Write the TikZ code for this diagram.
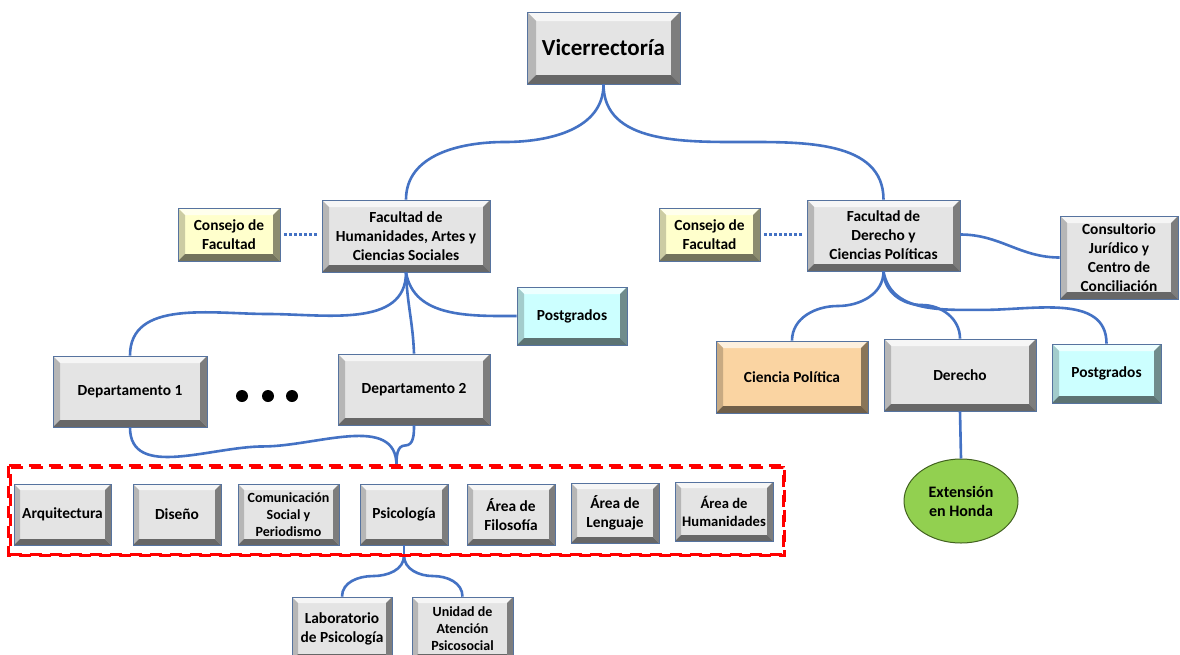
\documentclass[tikz,border=0pt]{standalone}
\usepackage{fontspec}
\setmainfont{Carlito}
\usetikzlibrary{calc,shapes.geometric}

\definecolor{face}{HTML}{E4E4E4}
\definecolor{yel}{HTML}{FFFFCC}
\definecolor{cyn}{HTML}{CCFFFF}
\definecolor{org}{HTML}{FAD4A2}
\definecolor{grn}{HTML}{92D050}
\definecolor{grnd}{HTML}{5E8C2C}
\definecolor{edge}{HTML}{56739F}
\definecolor{link}{HTML}{4472C4}
\definecolor{frame}{HTML}{FF0000}

\pgfdeclareradialshading{rimgreen}{\pgfpoint{0bp}{0bp}}{color(0bp)=(grn);color(41bp)=(grn);color(48bp)=(grnd);color(50bp)=(grnd);color(100bp)=(grnd)}

\def\bw{7pt}
\tikzset{
  bw/.code={\def\bw{#1}},
  bevel/.style={draw=edge, line width=0.8pt, fill=#1, inner sep=0pt, align=center,
    text=black,
    path picture={
      \coordinate (bnw) at (path picture bounding box.north west);
      \coordinate (bne) at (path picture bounding box.north east);
      \coordinate (bsw) at (path picture bounding box.south west);
      \coordinate (bse) at (path picture bounding box.south east);
      \fill[#1!35!white] (bnw) -- (bne) -- ($(bne)+(-\bw,-\bw)$) -- ($(bnw)+(\bw,-\bw)$) -- cycle;
      \fill[#1!80!black] (bnw) -- (bsw) -- ($(bsw)+(\bw,\bw)$) -- ($(bnw)+(\bw,-\bw)$) -- cycle;
      \fill[#1!55!black] (bne) -- (bse) -- ($(bse)+(-\bw,\bw)$) -- ($(bne)+(-\bw,-\bw)$) -- cycle;
      \fill[#1!45!black] (bsw) -- (bse) -- ($(bse)+(-\bw,\bw)$) -- ($(bsw)+(\bw,\bw)$) -- cycle;
    }},
  txt/.style={font=\bfseries\fontsize{15.4}{19}\selectfont},
  small/.style={font=\bfseries\fontsize{14}{16.8}\selectfont},
  conn/.style={draw=link, line width=2.6pt},
  dotlink/.style={draw=link, line width=2.6pt, dash pattern=on 2.6pt off 2.4pt},
  blob/.style={circle, fill=black, minimum size=12pt, inner sep=0pt},
  oval/.style={ellipse, draw=grnd!70!black, line width=1pt, shading=rimgreen,
    inner sep=0pt, align=center, text=black},
  group/.style={draw=frame, line width=3pt, dash pattern=on 12pt off 8pt, inner sep=0pt}
}

\begin{document}
\begin{tikzpicture}[x=1pt,y=1pt]
\clip (0,0) rectangle (1180,-654);
\fill[white] (0,0) rectangle (1180,-654);

% top level
\node[bevel=face, bw=9pt, minimum width=153pt, minimum height=72pt,
  font=\bfseries\fontsize{23}{27}\selectfont] (vic) at (603.5,-48) {Vicerrectoría};

% faculties and their councils
\node[bevel=yel, txt, minimum width=102pt, minimum height=53pt] (conL) at (229,-234.5) {Consejo de\\Facultad};
\node[bevel=face, txt, minimum width=168pt, minimum height=72pt] (fh) at (406,-236) {Facultad de\\Humanidades, Artes y\\Ciencias Sociales};
\node[bevel=yel, txt, minimum width=101pt, minimum height=53pt] (conR) at (709.5,-234.5) {Consejo de\\Facultad};
\node[bevel=face, txt, minimum width=153pt, minimum height=71pt] (fd) at (883.5,-235.5) {Facultad de\\Derecho y\\Ciencias Políticas};
\node[bevel=face, txt, minimum width=118pt, minimum height=83pt] (cons) at (1119,-257.5) {Consultorio\\Jurídico y\\Centro de\\Conciliación};

% second level, left faculty
\node[bevel=cyn, txt, minimum width=110pt, minimum height=58pt] (pgL) at (572,-316) {Postgrados};
\node[bevel=face, txt, minimum width=154pt, minimum height=71pt] (dep1) at (130,-391.5) {Departamento 1};
\node[bevel=face, txt, minimum width=152pt, minimum height=71pt] (dep2) at (414,-389.5) {Departamento 2};
\node[blob] (e1) at (242,-396) {};
\node[blob] (e2) at (268,-396) {};
\node[blob] (e3) at (292,-396) {};

% second level, right faculty
\node[bevel=org, txt, minimum width=152pt, minimum height=72pt] (cp) at (792,-377) {Ciencia Política};
\node[bevel=face, txt, minimum width=152pt, minimum height=72pt] (der) at (960,-375) {Derecho};
\node[bevel=cyn, txt, minimum width=109pt, minimum height=59pt] (pgR) at (1106.5,-373.5) {Postgrados};
\node[oval, font=\bfseries\fontsize{16}{19}\selectfont, minimum width=114pt, minimum height=84pt] (honda) at (961,-501) {Extensión\\en Honda};

% programmes and areas
\node[bevel=face, bw=6pt, txt, minimum width=97pt, minimum height=61pt] (arq) at (62.5,-514.5) {Arquitectura};
\node[bevel=face, bw=6pt, txt, minimum width=88pt, minimum height=61pt] (dis) at (177,-514.5) {Diseño};
\node[bevel=face, bw=6pt, small, minimum width=101pt, minimum height=61pt] (com) at (288.5,-514.5) {Comunicación\\Social y\\Periodismo};
\node[bevel=face, bw=6pt, txt, minimum width=88pt, minimum height=61pt] (psi) at (404,-514.5) {Psicología};
\node[bevel=face, bw=6pt, txt, minimum width=88pt, minimum height=61pt] (fil) at (511,-514.5) {Área de\\Filosofía};
\node[bevel=face, bw=6pt, txt, minimum width=88pt, minimum height=60pt] (len) at (615,-513) {Área de\\Lenguaje};
\node[bevel=face, bw=6pt, font=\bfseries\fontsize{14.6}{17.5}\selectfont, minimum width=98pt, minimum height=59pt] (hum) at (724,-511.5) {Área de\\Humanidades};

% units under Psicología
\node[bevel=face, bw=6pt, txt, minimum width=100pt, minimum height=63pt] (lab) at (342,-628.5) {Laboratorio\\de Psicología};
\node[bevel=face, bw=6pt, small, minimum width=101pt, minimum height=63pt] (uni) at (462.5,-628.5) {Unidad de\\Atención\\Psicosocial};

% frame around the programmes
\node[group, minimum width=773pt, minimum height=87pt] (grupo) at (396.5,-510.5) {};
\coordinate (depJ) at (grupo.north);
\coordinate (psiJ) at (psi.south |- grupo.south);

% connectors
\path[conn] (vic.south) to[out=-90,in=0] ($(vic.south)!0.5!(fh.north)$) to[out=180,in=90] (fh.north);
\path[conn] (vic.south) to[out=-90,in=180] ($(vic.south)!0.5!(fd.north)$) to[out=0,in=90] (fd.north);

\path[dotlink] ([xshift=4pt]conL.east) -- ([xshift=-4pt]conL.east -| fh.west);
\path[dotlink] ([xshift=4pt]conR.east) -- ([xshift=-4pt]conR.east -| fd.west);

\path[conn] (fh.south) to[out=-90,in=0] ($(fh.south)!0.5!(dep1.north)$) to[out=180,in=90] (dep1.north);
\path[conn] (fh.south) to[out=-88,in=92] (dep2.north);
\path[conn] (fh.south) to[out=-80,in=180] (pgL.west);

\path[conn] ([yshift=1pt]fd.east) to[out=0,in=180] (cons.west);
\path[conn] (fd.south) to[out=-90,in=0] ($(fd.south)!0.5!(cp.north)$) to[out=180,in=90] (cp.north);
\path[conn] (fd.south) to[out=-90,in=180] ($(fd.south)!0.5!(der.north)$) to[out=0,in=90] (der.north);
\path[conn] (fd.south) to[out=-80,in=180] ($(fd.south)!0.45!(pgR.north)+(0,-6)$) to[out=0,in=90] (pgR.north);
\path[conn] (der.south) -- (honda.north);

\path[conn] (dep1.south) to[out=-90,in=180] ($(dep1.south)!0.5!(depJ)$) to[out=0,in=90] (depJ);
\path[conn] (dep2.south) to[out=-90,in=0] ($(dep2.south)!0.5!(depJ)$) to[out=180,in=90] (depJ);

\path[conn] (psi.south) -- (psiJ);
\path[conn] (psiJ) to[out=-90,in=0] ($(psiJ)!0.5!(lab.north)$) to[out=180,in=90] (lab.north);
\path[conn] (psiJ) to[out=-90,in=180] ($(psiJ)!0.5!(uni.north)$) to[out=0,in=90] (uni.north);

% frame drawn over the junctions
\draw[group] (grupo.north west) rectangle (grupo.south east);
\end{tikzpicture}
\end{document}
